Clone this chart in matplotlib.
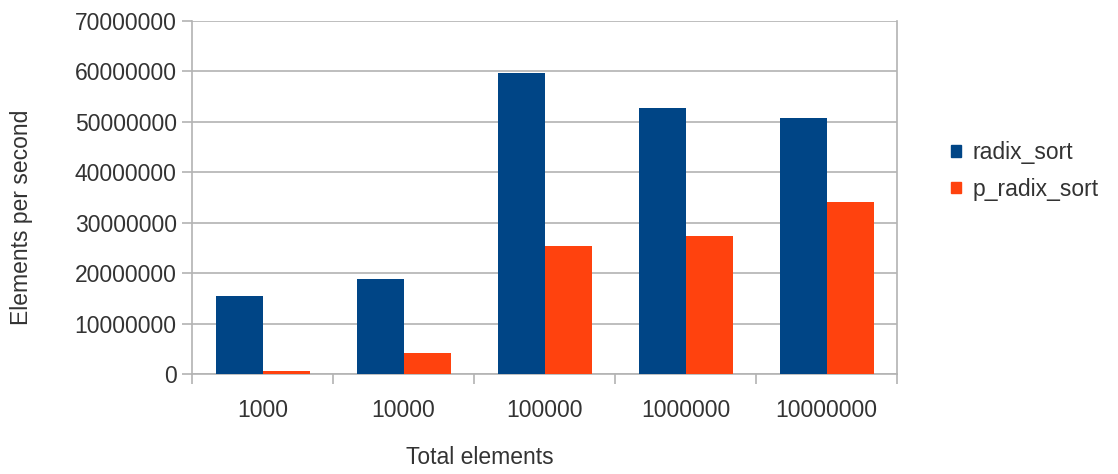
import matplotlib.pyplot as plt
import numpy as np
from matplotlib.patches import Patch

plt.rcParams['font.family'] = ['Liberation Sans', 'DejaVu Sans']

# данные
sizes = ['1000', '10000', '100000', '1000000', '10000000']
radix_sort = [15500000, 18800000, 59600000, 52800000, 50800000]
p_radix_sort = [600000, 4100000, 25400000, 27300000, 34100000]

blue = '#004586'
orange = '#ff420e'
grey = '#b3b3b3'
txt = '#333333'

fig = plt.figure(figsize=(11.18, 4.74), dpi=100)
ax = fig.add_axes([192 / 1118, 1 - 374 / 474, (897 - 192) / 1118, (374 - 20.7) / 474])

x = np.arange(len(sizes))
w = 1 / 3
ax.bar(x - w / 2, radix_sort, w, color=blue, zorder=3)
ax.bar(x + w / 2, p_radix_sort, w, color=orange, zorder=3)

ax.set_xlim(-0.5, len(sizes) - 0.5)
ax.set_ylim(0, 70000000)
ax.set_yticks(np.arange(0, 70000001, 10000000))
ax.set_yticklabels([str(v) for v in range(0, 70000001, 10000000)])
ax.set_xticks(x)
ax.set_xticklabels(sizes)
ax.set_xticks(np.arange(-0.5, len(sizes), 1), minor=True)

ax.grid(axis='y', color=grey, linewidth=1.2, zorder=0)
for s in ax.spines.values():
    s.set_color(grey)
    s.set_linewidth(1.2)
ax.spines['top'].set_visible(False)

ax.tick_params(axis='y', length=7, width=1.2, color=grey, labelcolor=txt, labelsize=16.5, pad=4)
ax.tick_params(axis='x', which='major', length=0, labelcolor=txt, labelsize=16.5, pad=18)
ax.tick_params(axis='x', which='minor', length=7, width=1.2, color=grey)

fig.text(22 / 1118, 1 - 217 / 474, 'Elements per second', rotation=90,
         ha='center', va='center', fontsize=16.5, color=txt)
fig.text(480 / 1118, 1 - 458 / 474, 'Total elements',
         ha='center', va='center', fontsize=16.5, color=txt)

handles = [Patch(color=blue, label='radix_sort'), Patch(color=orange, label='p_radix_sort')]
fig.legend(handles=handles, loc='center left', bbox_to_anchor=(940 / 1118, 1 - 171 / 474),
           frameon=False, fontsize=16.5, labelcolor=txt, handlelength=0.4, handleheight=0.4,
           handletextpad=0.5, labelspacing=0.6, borderpad=0)

fig.savefig('out.png', dpi=100)
